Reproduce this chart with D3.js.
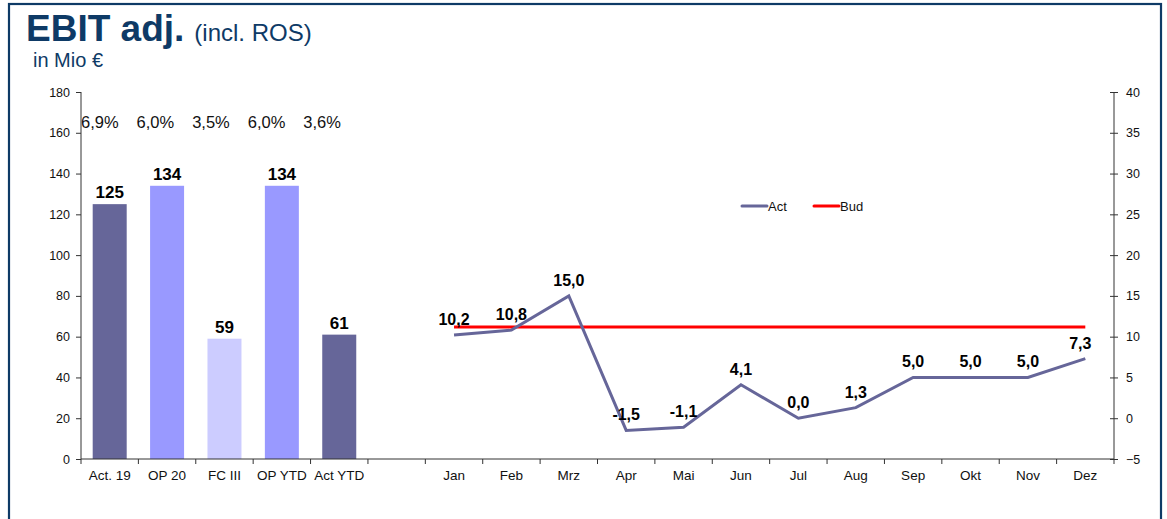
<!DOCTYPE html>
<html><head><meta charset="utf-8">
<script src="https://cdn.jsdelivr.net/npm/d3@7"></script>
<style>body{margin:0;background:#fff;font-family:"Liberation Sans",Arial,sans-serif;}</style>
</head><body><svg id="c" width="1167" height="519"></svg>
<script>
const barCats = ["Act. 19","OP 20","FC III","OP YTD","Act YTD"];
const barValues = [125,134,59,134,61];
const barColors = ["#666699","#9999FF","#CCCCFF","#9999FF","#666699"];
const rosLabels = ["6,9%","6,0%","3,5%","6,0%","3,6%"];
const months = ["Jan","Feb","Mrz","Apr","Mai","Jun","Jul","Aug","Sep","Okt","Nov","Dez"];
const actValues = [10.2,10.8,15.0,-1.5,-1.1,4.1,0.0,1.3,5.0,5.0,5.0,7.3];
const budValues = [11.2,11.2,11.2,11.2,11.2,11.2,11.2,11.2,11.2,11.2,11.2,11.2];
const leftTicks = [0,20,40,60,80,100,120,140,160,180];
const rightTicks = [-5,0,5,10,15,20,25,30,35,40];

const svg = d3.select("#c");
const L=81, R=1114, T=92, B=459;
const allCats = [...barCats, "_gap", ...months];
const x = d3.scaleBand().domain(allCats).range([L,R]).paddingInner(0).paddingOuter(0);
const yL = d3.scaleLinear().domain([0,180]).range([B,T]);
const yR = d3.scaleLinear().domain([-5,40]).range([B,T]);

// border
svg.append("rect").attr("x",9).attr("y",4).attr("width",1152).attr("height",530)
  .attr("fill","none").attr("stroke","#0E3A66").attr("stroke-width",2.2);

// title
const t = svg.append("text").attr("x",26).attr("y",41).attr("fill","#0E3A66");
t.append("tspan").attr("font-size",37).attr("font-weight","bold").text("EBIT adj.");
t.append("tspan").attr("font-size",24).attr("dx",10).text("(incl. ROS)");
svg.append("text").attr("x",33).attr("y",67).attr("fill","#0E3A66").attr("font-size",20).text("in Mio €");

// bars
svg.selectAll("rect.bar").data(barCats).join("rect").attr("class","bar")
  .attr("x",d=>x(d)+x.bandwidth()/2-17).attr("width",34)
  .attr("y",(d,i)=>yL(barValues[i])).attr("height",(d,i)=>B-yL(barValues[i]))
  .attr("fill",(d,i)=>barColors[i]);
svg.selectAll("text.bl").data(barCats).join("text").attr("class","bl")
  .attr("x",d=>x(d)+x.bandwidth()/2).attr("y",(d,i)=>yL(barValues[i])-6)
  .attr("text-anchor","middle").attr("font-size",17).attr("font-weight","bold").attr("fill","#000")
  .text((d,i)=>barValues[i]);
svg.selectAll("text.ros").data(barCats).join("text").attr("class","ros")
  .attr("x",(d,i)=>x(d)-i*1.8).attr("y",128)
  .attr("text-anchor","start").attr("font-size",16.5).attr("fill","#111")
  .text((d,i)=>rosLabels[i]);

// axes
const axColor="#333";
const gL = svg.append("g").attr("transform",`translate(${L},0)`)
  .call(d3.axisLeft(yL).tickValues(leftTicks).tickSize(5).tickPadding(6));
const gR = svg.append("g").attr("transform",`translate(${R},0)`)
  .call(d3.axisRight(yR).tickValues(rightTicks).tickSize(4).tickPadding(8));
gR.selectAll(".tick line").attr("x1",-4);
const gB = svg.append("g").attr("transform",`translate(0,${B})`)
  .call(d3.axisBottom(x).tickSize(0).tickPadding(11).tickFormat(d=>d==="_gap"?"":d));
const bounds = allCats.map(d=>x(d)).concat([R]);
svg.append("g").selectAll("line").data(bounds).join("line")
  .attr("x1",d=>d).attr("x2",d=>d).attr("y1",B).attr("y2",B+5).attr("stroke",axColor);
[gL,gR,gB].forEach(g=>{
  g.selectAll(".tick line").attr("stroke",axColor);
  g.selectAll("text").attr("font-size",12.5).attr("fill","#111").attr("font-family","Liberation Sans, Arial, sans-serif");
});
gB.selectAll("text").attr("font-size",13.5);
gL.select(".domain").remove(); gR.select(".domain").remove(); gB.select(".domain").remove();
svg.append("line").attr("x1",L).attr("x2",L).attr("y1",T).attr("y2",B).attr("stroke",axColor);
svg.append("line").attr("x1",R).attr("x2",R).attr("y1",T).attr("y2",B).attr("stroke",axColor);
svg.append("line").attr("x1",L).attr("x2",R).attr("y1",B).attr("y2",B).attr("stroke",axColor);

// lines
const mx = d=>x(d)+x.bandwidth()/2;
const line = d3.line().x((d,i)=>mx(months[i])).y(d=>yR(d));
svg.append("path").datum(budValues).attr("d",line).attr("fill","none")
  .attr("stroke","#FF0000").attr("stroke-width",3);
svg.append("path").datum(actValues).attr("d",line).attr("fill","none")
  .attr("stroke","#666699").attr("stroke-width",3).attr("stroke-linejoin","miter");
const fmt = v=>v.toFixed(1).replace(".",",");
svg.selectAll("text.ml").data(actValues).join("text").attr("class","ml")
  .attr("x",(d,i)=>mx(months[i])+(i===11?-5:0)).attr("y",(d,i)=>yR(d)-10)
  .attr("text-anchor","middle").attr("font-size",16).attr("font-weight","bold").attr("fill","#000")
  .text(d=>fmt(d));

// legend
const leg = [{n:"Act",c:"#666699",x:742},{n:"Bud",c:"#FF0000",x:814}];
leg.forEach(l=>{
  svg.append("line").attr("x1",l.x).attr("x2",l.x+25).attr("y1",206).attr("y2",206)
    .attr("stroke",l.c).attr("stroke-width",3).attr("stroke-linecap","round");
  svg.append("text").attr("x",l.x+26).attr("y",210.5).attr("font-size",13).attr("fill","#111").text(l.n);
});
</script></body></html>
